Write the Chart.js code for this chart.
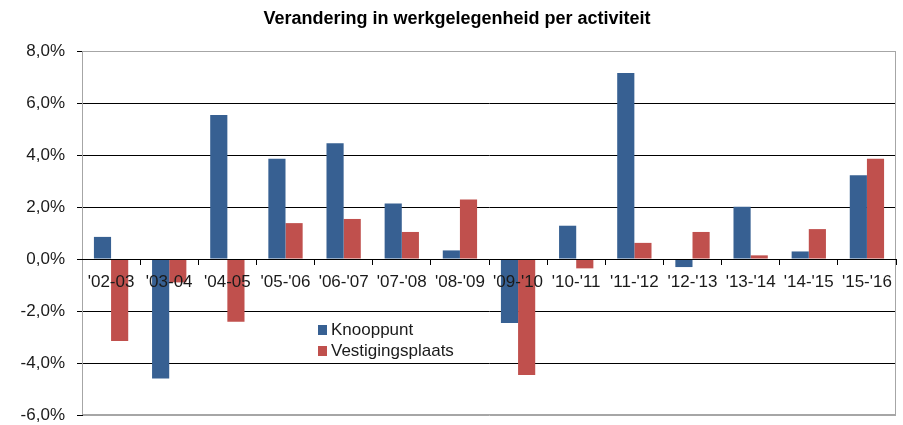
<!DOCTYPE html>
<html>
<head>
<meta charset="utf-8">
<script src="https://cdn.jsdelivr.net/npm/chart.js@4/dist/chart.umd.min.js"></script>
<style>
  html, body { margin: 0; padding: 0; background: #fff; }
  #wrap { position: relative; width: 903px; height: 425px; }
  #legend { position: absolute; left: 318px; top: 319px; font: 17px 'Liberation Sans', Arial, sans-serif; color: #1a1a1a; line-height: 21px; }
  #legend .item { display: flex; align-items: center; white-space: nowrap; }
  #legend .sw { width: 9px; height: 10px; margin-right: 4px; display: inline-block; }
</style>
</head>
<body>
<div id="wrap">
  <canvas id="c" width="903" height="425"></canvas>
  <div id="legend"></div>
</div>
<script>
const title = 'Verandering in werkgelegenheid per activiteit';
const categories = ["'02-03", "'03-04", "'04-05", "'05-'06", "'06-'07", "'07-'08", "'08-'09", "'09-'10", "'10-'11", "'11-'12", "'12-'13", "'13-'14", "'14-'15", "'15-'16"];
const seriesNames = ['Knooppunt', 'Vestigingsplaats'];
const knooppunt = [0.85, -4.6, 5.54, 3.86, 4.45, 2.13, 0.33, -2.46, 1.28, 7.15, -0.31, 2.01, 0.29, 3.22];
const vestigingsplaats = [-3.15, -0.9, -2.41, 1.38, 1.54, 1.04, 2.29, -4.46, -0.36, 0.62, 1.04, 0.14, 1.15, 3.86];
const colors = ['#376092', '#C0504D'];
const yMin = -6, yMax = 8, yStep = 2;

const FONT = "'Liberation Sans', Arial, sans-serif";

const borderPlugin = {
  id: 'plotBorder',
  beforeDatasetsDraw(chart) {
    const a = chart.chartArea, ctx = chart.ctx;
    ctx.save();
    ctx.strokeStyle = '#a6a6a6';
    ctx.lineWidth = 1;
    ctx.strokeRect(Math.round(a.left) + 0.5, Math.round(a.top) + 0.5, Math.round(a.right - a.left) - 1, Math.round(a.bottom - a.top) - 1);
    ctx.restore();
  }
};

const chart = new Chart(document.getElementById('c'), {
  type: 'bar',
  data: {
    labels: categories,
    datasets: [
      { label: seriesNames[0], data: knooppunt, backgroundColor: colors[0], borderWidth: 0 },
      { label: seriesNames[1], data: vestigingsplaats, backgroundColor: colors[1], borderWidth: 0 }
    ]
  },
  options: {
    responsive: false,
    animation: false,
    layout: { padding: { left: 18, right: 7, top: 0, bottom: 10 } },
    datasets: { bar: { categoryPercentage: 0.59, barPercentage: 1.0 } },
    plugins: {
      legend: { display: false },
      tooltip: { enabled: false },
      title: {
        display: true, text: title, color: '#000',
        font: { family: FONT, size: 18, weight: 'bold', lineHeight: 1.2 },
        padding: { top: 8, bottom: 21.4 }
      }
    },
    scales: {
      x: {
        position: { y: 0 },
        afterFit(scale) { scale.paddingLeft = 0; scale.paddingRight = 0; },
        grid: { display: true, offset: true, drawOnChartArea: false, drawTicks: true, tickLength: 5, color: '#000' },
        border: { display: true, color: '#000', width: 1, z: 1 },
        ticks: { autoSkip: false, maxRotation: 0, minRotation: 0, padding: 8, color: '#1a1a1a', z: 1,
                 font: { family: FONT, size: 17 } }
      },
      y: {
        min: yMin, max: yMax,
        afterFit(scale) { scale.width = 64; scale.paddingTop = 0; scale.paddingBottom = 0; },
        grid: {
          color: (ctx) => (ctx.tick && (ctx.tick.value === yMax || ctx.tick.value === yMin)) ? '#a6a6a6' : '#000',
          tickColor: '#000',
          tickLength: 5, drawTicks: true
        },
        border: { display: true, color: '#000', width: 1 },
        ticks: {
          stepSize: yStep, padding: 12, color: '#1a1a1a',
          font: { family: FONT, size: 17 },
          callback: (v) => v.toFixed(1).replace('.', ',') + '%'
        }
      }
    }
  },
  plugins: [borderPlugin]
});

const leg = document.getElementById('legend');
chart.data.datasets.forEach((ds) => {
  const item = document.createElement('div');
  item.className = 'item';
  const sw = document.createElement('span');
  sw.className = 'sw';
  sw.style.background = ds.backgroundColor;
  const t = document.createElement('span');
  t.textContent = ds.label;
  item.appendChild(sw); item.appendChild(t);
  leg.appendChild(item);
});
</script>
</body>
</html>
